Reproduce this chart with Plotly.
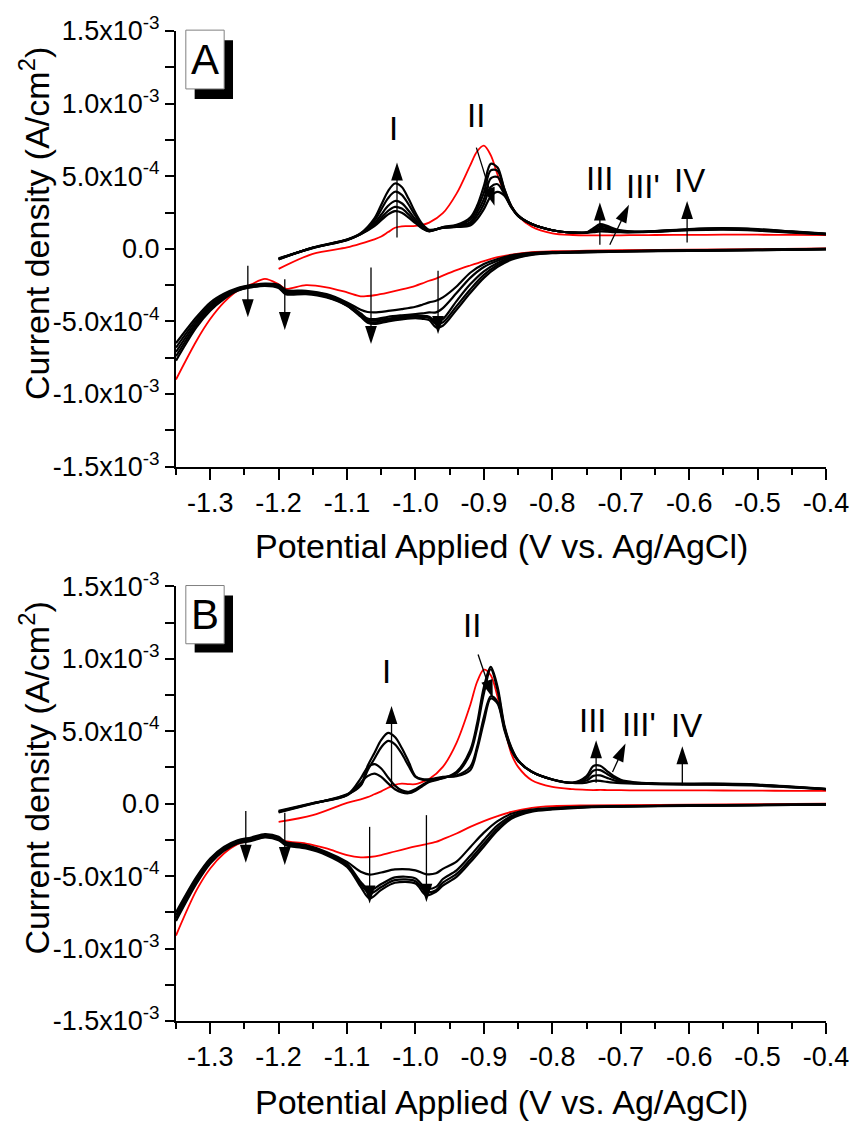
import plotly.graph_objects as go

SCALE = 1e-4  # stored current densities are in units of 1e-4 A/cm^2
FONT = "Liberation Sans, Arial, sans-serif"

# ---------------- Panel A ----------------
A_V_FWD = [-1.20, -1.15, -1.10, -1.08, -1.06, -1.05, -1.04, -1.03, -1.02, -1.01,
           -1.00, -0.99, -0.98, -0.96, -0.94, -0.92, -0.91, -0.90, -0.89, -0.88,
           -0.87, -0.86, -0.85, -0.83, -0.80, -0.77, -0.75, -0.74, -0.73, -0.72,
           -0.71, -0.70, -0.68, -0.65, -0.60, -0.55, -0.50, -0.45, -0.40]
A_FWD_RED = [-1.38, -0.35, 0.09, 0.35, 0.65, 0.85, 1.15, 1.45, 1.55, 1.56,
             1.58, 1.65, 1.80, 2.45, 3.80, 5.75, 6.70, 7.10, 6.45, 5.10,
             3.85, 2.95, 2.27, 1.52, 1.07, 0.95, 0.92, 0.92, 0.93, 0.93,
             0.93, 0.93, 0.94, 0.95, 0.96, 0.97, 0.97, 0.96, 0.94]
A_FWD_C1 = [-0.66, 0.05, 0.60, 1.00, 1.56, 1.97, 2.37, 2.59, 2.49, 2.15,
            1.76, 1.39, 1.20, 1.50, 1.65, 2.15, 2.96, 4.33, 5.85, 5.60,
            4.10, 2.95, 2.30, 1.70, 1.28, 1.12, 1.12, 1.14, 1.19, 1.18,
            1.15, 1.14, 1.14, 1.18, 1.28, 1.32, 1.25, 1.12, 1.00]
A_FWD_C2 = [-0.68, 0.06, 0.61, 1.01, 1.64, 2.14, 2.62, 2.89, 2.77, 2.36,
            1.87, 1.44, 1.22, 1.48, 1.60, 2.00, 2.75, 3.87, 5.40, 5.37,
            4.10, 2.95, 2.30, 1.70, 1.28, 1.12, 1.12, 1.20, 1.32, 1.28,
            1.21, 1.17, 1.15, 1.19, 1.30, 1.35, 1.28, 1.14, 1.01]
A_FWD_C3 = [-0.70, 0.07, 0.62, 1.03, 1.75, 2.36, 2.96, 3.29, 3.14, 2.62,
            2.02, 1.50, 1.24, 1.46, 1.55, 1.83, 2.50, 3.42, 4.85, 4.95,
            3.90, 2.90, 2.28, 1.70, 1.28, 1.12, 1.12, 1.27, 1.44, 1.38,
            1.27, 1.20, 1.16, 1.20, 1.32, 1.38, 1.30, 1.16, 1.02]
A_FWD_C4 = [-0.72, 0.08, 0.63, 1.05, 1.93, 2.71, 3.49, 3.93, 3.72, 3.05,
            2.26, 1.61, 1.28, 1.45, 1.52, 1.72, 2.27, 3.07, 4.25, 4.45,
            3.76, 2.88, 2.27, 1.70, 1.28, 1.12, 1.12, 1.33, 1.57, 1.48,
            1.33, 1.24, 1.17, 1.21, 1.34, 1.40, 1.33, 1.18, 1.03]
A_FWD_C5 = [-0.74, 0.09, 0.64, 1.07, 2.09, 3.03, 3.98, 4.50, 4.26, 3.44,
            2.48, 1.71, 1.31, 1.44, 1.50, 1.60, 2.04, 2.73, 3.60, 3.92,
            3.65, 2.85, 2.25, 1.70, 1.28, 1.12, 1.12, 1.42, 1.70, 1.58,
            1.40, 1.27, 1.18, 1.22, 1.36, 1.42, 1.35, 1.20, 1.04]

A_V_REV = [-0.40, -0.50, -0.60, -0.70, -0.75, -0.80, -0.83, -0.86, -0.88, -0.90,
           -0.92, -0.94, -0.96, -0.97, -0.98, -0.99, -1.00, -1.02, -1.04, -1.06,
           -1.07, -1.08, -1.10, -1.13, -1.16, -1.19, -1.20, -1.22, -1.24, -1.26,
           -1.28, -1.30, -1.32, -1.35]
A_REV_RED = [0.02, -0.02, -0.06, -0.10, -0.13, -0.17, -0.23, -0.40, -0.58, -0.85,
             -1.15, -1.47, -1.85, -2.05, -2.20, -2.38, -2.55, -2.80, -3.02, -3.20,
             -3.25, -3.27, -3.00, -2.65, -2.50, -2.75, -2.45, -2.07, -2.45, -2.89,
             -3.69, -4.84, -6.33, -9.00]
A_REV_C1 = [0.00, -0.06, -0.10, -0.15, -0.18, -0.22, -0.28, -0.45, -0.70, -1.05,
            -1.65, -2.60, -3.35, -3.58, -3.69, -3.85, -3.99, -4.15, -4.28, -4.38,
            -4.35, -4.20, -3.69, -3.12, -2.89, -2.84, -2.48, -2.39, -2.50, -2.70,
            -3.10, -3.70, -4.70, -6.50]
A_REV_C2 = [-0.01, -0.07, -0.11, -0.16, -0.19, -0.24, -0.31, -0.52, -0.82, -1.25,
            -2.00, -3.05, -4.08, -4.38, -4.38, -4.45, -4.50, -4.58, -4.68, -4.84,
            -4.80, -4.45, -3.78, -3.18, -2.95, -2.92, -2.54, -2.43, -2.54, -2.75,
            -3.19, -3.84, -4.88, -6.80]
A_REV_C3 = [-0.02, -0.08, -0.12, -0.17, -0.21, -0.26, -0.34, -0.60, -0.98, -1.55,
            -2.45, -3.60, -4.84, -5.00, -4.68, -4.62, -4.61, -4.68, -4.80, -4.95,
            -4.90, -4.55, -3.85, -3.24, -3.00, -2.98, -2.60, -2.47, -2.58, -2.80,
            -3.28, -3.98, -5.05, -7.10]
A_REV_C4 = [-0.03, -0.09, -0.13, -0.18, -0.23, -0.28, -0.38, -0.68, -1.12, -1.80,
            -2.80, -3.95, -5.07, -5.18, -4.77, -4.70, -4.68, -4.76, -4.90, -5.07,
            -5.00, -4.62, -3.90, -3.30, -3.06, -3.05, -2.65, -2.51, -2.62, -2.85,
            -3.37, -4.12, -5.22, -7.40]
A_REV_C5 = [-0.04, -0.10, -0.14, -0.19, -0.25, -0.30, -0.42, -0.75, -1.25, -2.00,
            -3.05, -4.20, -5.30, -5.41, -4.91, -4.82, -4.77, -4.86, -5.00, -5.18,
            -5.10, -4.68, -3.92, -3.35, -3.12, -3.12, -2.70, -2.55, -2.66, -2.89,
            -3.46, -4.27, -5.40, -7.70]

# arrows: (V tail, j tail, V head, j head)
A_ARROWS = [(-1.027, 0.78, -1.027, 5.94), (-0.911, 6.97, -0.8845, 2.96),
            (-0.7305, 0.28, -0.7305, 3.19), (-0.716, 0.28, -0.688, 3.03),
            (-0.603, 0.44, -0.603, 3.30),
            (-1.245, -1.17, -1.245, -4.72), (-1.191, -2.09, -1.191, -5.60),
            (-1.065, -1.28, -1.065, -6.56), (-0.967, -1.51, -0.967, -5.87)]
A_LABELS = ["I", "II", "III", "III'", "IV"]
A_LABEL_V = [-1.0325, -0.912, -0.731, -0.667, -0.600]
A_LABEL_J = [8.26, 9.18, 4.85, 4.27, 4.68]

# ---------------- Panel B ----------------
B_V_FWD = [-1.20, -1.15, -1.10, -1.08, -1.07, -1.06, -1.05, -1.04, -1.03, -1.02,
           -1.01, -1.00, -0.99, -0.98, -0.96, -0.94, -0.92, -0.91, -0.90, -0.89,
           -0.88, -0.87, -0.86, -0.85, -0.83, -0.80, -0.77, -0.75, -0.74, -0.73,
           -0.72, -0.71, -0.70, -0.68, -0.65, -0.60, -0.55, -0.50, -0.45, -0.40]
B_FWD_RED = [-1.26, -0.79, 0.06, 0.30, 0.45, 0.65, 0.85, 1.10, 1.30, 1.38,
             1.35, 1.35, 1.50, 1.70, 2.54, 4.20, 6.80, 8.40, 9.25, 8.87,
             7.37, 5.30, 3.46, 2.54, 1.62, 1.16, 1.00, 0.95, 0.94, 0.95,
             0.94, 0.93, 0.93, 0.92, 0.92, 0.92, 0.91, 0.90, 0.89, 0.88]
B_FWD_C1 = [-0.50, 0.05, 0.58, 1.45, 1.90, 2.08, 1.85, 1.40, 1.00, 0.78,
            0.72, 0.90, 1.20, 1.50, 1.75, 2.20, 3.69, 5.53, 8.06, 9.44,
            8.06, 5.40, 3.90, 3.00, 2.20, 1.67, 1.43, 1.46, 1.58, 1.58,
            1.50, 1.45, 1.42, 1.38, 1.35, 1.32, 1.30, 1.25, 1.12, 1.00]
B_FWD_C2 = [-0.54, 0.03, 0.60, 1.75, 2.50, 2.73, 2.43, 1.81, 1.25, 0.92,
            0.82, 1.00, 1.30, 1.55, 1.78, 2.10, 3.46, 5.19, 7.60, 9.28,
            7.83, 5.30, 3.85, 3.00, 2.20, 1.67, 1.44, 1.60, 1.92, 1.95,
            1.78, 1.62, 1.50, 1.42, 1.37, 1.34, 1.33, 1.28, 1.14, 1.00]
B_FWD_C3 = [-0.57, 0.01, 0.62, 1.25, 2.30, 3.10, 3.90, 4.34, 4.10, 3.45,
            2.60, 1.85, 1.65, 1.62, 1.82, 1.95, 2.54, 3.92, 5.99, 7.42,
            7.02, 5.20, 3.75, 2.95, 2.20, 1.67, 1.44, 1.75, 2.28, 2.32,
            2.05, 1.78, 1.58, 1.45, 1.39, 1.36, 1.36, 1.30, 1.16, 1.01]
B_FWD_C4 = [-0.60, 0.00, 0.65, 1.30, 2.60, 3.50, 4.40, 4.89, 4.60, 3.85,
            2.90, 1.90, 1.70, 1.68, 1.85, 1.90, 2.31, 3.69, 5.64, 7.26,
            6.91, 5.07, 3.70, 2.95, 2.20, 1.67, 1.45, 1.90, 2.60, 2.62,
            2.25, 1.90, 1.65, 1.48, 1.41, 1.38, 1.38, 1.32, 1.18, 1.02]

B_V_REV = [-0.40, -0.50, -0.60, -0.70, -0.75, -0.80, -0.83, -0.86, -0.88, -0.90,
           -0.92, -0.94, -0.96, -0.97, -0.985, -1.00, -1.03, -1.05, -1.067, -1.08,
           -1.10, -1.13, -1.16, -1.19, -1.20, -1.22, -1.24, -1.26, -1.28, -1.30,
           -1.32, -1.35]
B_REV_RED = [0.01, -0.04, -0.07, -0.10, -0.12, -0.17, -0.29, -0.57, -0.86, -1.20,
             -1.60, -2.06, -2.45, -2.64, -2.80, -2.95, -3.30, -3.55, -3.68, -3.70,
             -3.55, -3.09, -2.75, -2.59, -2.40, -2.29, -2.52, -2.79, -3.44, -4.47,
             -5.97, -9.10]
B_REV_C1 = [-0.04, -0.08, -0.12, -0.17, -0.20, -0.30, -0.40, -0.70, -1.20, -2.00,
            -3.00, -4.00, -4.50, -4.80, -4.86, -4.60, -4.54, -4.75, -4.89, -4.70,
            -4.02, -3.33, -2.86, -2.64, -2.29, -2.10, -2.33, -2.52, -2.98, -3.78,
            -5.05, -7.50]
B_REV_C2 = [-0.05, -0.09, -0.13, -0.18, -0.22, -0.33, -0.45, -0.85, -1.50, -2.50,
            -3.60, -4.60, -5.20, -5.74, -5.85, -5.16, -5.09, -5.55, -5.97, -5.40,
            -4.15, -3.40, -2.94, -2.71, -2.37, -2.18, -2.41, -2.60, -3.07, -3.90,
            -5.20, -7.70]
B_REV_C3 = [-0.06, -0.10, -0.14, -0.19, -0.24, -0.36, -0.50, -0.95, -1.70, -2.75,
            -3.85, -4.85, -5.45, -5.97, -6.08, -5.35, -5.28, -5.75, -6.20, -5.55,
            -4.25, -3.47, -3.01, -2.79, -2.45, -2.26, -2.49, -2.68, -3.17, -4.01,
            -5.36, -7.90]
B_REV_C4 = [-0.06, -0.11, -0.15, -0.20, -0.25, -0.40, -0.55, -1.05, -1.85, -2.95,
            -4.05, -5.05, -5.65, -6.08, -6.31, -5.51, -5.46, -5.95, -6.54, -5.74,
            -4.36, -3.55, -3.09, -2.86, -2.52, -2.33, -2.57, -2.75, -3.26, -4.13,
            -5.51, -8.10]

B_ARROWS = [(-1.035, 1.16, -1.035, 6.75), (-0.9085, 10.3, -0.887, 7.3),
            (-0.736, 1.44, -0.736, 4.38), (-0.712, 2.19, -0.693, 4.15),
            (-0.610, 1.28, -0.610, 3.97),
            (-1.248, -0.50, -1.248, -4.08), (-1.191, -0.63, -1.191, -4.24),
            (-1.067, -1.60, -1.067, -6.89), (-0.984, -0.79, -0.984, -6.78)]
B_LABELS = ["I", "II", "III", "III'", "IV"]
B_LABEL_V = [-1.0425, -0.918, -0.741, -0.674, -0.604]
B_LABEL_J = [9.11, 12.32, 5.73, 5.45, 5.38]

# ---------------- Axes ----------------
X_TICKS = [-1.3, -1.2, -1.1, -1.0, -0.9, -0.8, -0.7, -0.6, -0.5, -0.4]
X_TICK_TEXT = ["-1.3", "-1.2", "-1.1", "-1.0", "-0.9", "-0.8", "-0.7", "-0.6", "-0.5", "-0.4"]
X_MINOR = [-1.35, -1.25, -1.15, -1.05, -0.95, -0.85, -0.75, -0.65, -0.55, -0.45]
Y_TICKS = [-1.5e-3, -1.0e-3, -5.0e-4, 0.0, 5.0e-4, 1.0e-3, 1.5e-3]
Y_TICK_TEXT = ["-1.5x10<sup>-3</sup>", "-1.0x10<sup>-3</sup>", "-5.0x10<sup>-4</sup>", "0.0",
               "5.0x10<sup>-4</sup>", "1.0x10<sup>-3</sup>", "1.5x10<sup>-3</sup>"]
Y_MINOR = [-1.25e-3, -7.5e-4, -2.5e-4, 2.5e-4, 7.5e-4, 1.25e-3]

BLACK = "#000000"
RED = "#ff0000"

fig = go.Figure()


def add_branch(v, j, color, width, xa, ya):
    fig.add_trace(go.Scatter(
        x=v, y=[val * SCALE for val in j], mode="lines",
        line=dict(color=color, width=width, shape="spline", smoothing=0.9),
        xaxis=xa, yaxis=ya, hoverinfo="skip", showlegend=False))


def add_arrow(a, xa, ya):
    v0, j0, v1, j1 = a
    fig.add_trace(go.Scatter(
        x=[v0, v1], y=[j0 * SCALE, j1 * SCALE], mode="lines+markers",
        line=dict(color=BLACK, width=1.3),
        marker=dict(symbol="arrow", size=[0, 19], color=BLACK, opacity=1,
                    angleref="previous", line=dict(width=0)),
        xaxis=xa, yaxis=ya, hoverinfo="skip", showlegend=False))


panels = [
    ("x", "y", A_V_FWD, A_FWD_RED, [A_FWD_C1, A_FWD_C2, A_FWD_C3, A_FWD_C4, A_FWD_C5],
     A_V_REV, A_REV_RED, [A_REV_C1, A_REV_C2, A_REV_C3, A_REV_C4, A_REV_C5],
     A_ARROWS, A_LABELS, A_LABEL_V, A_LABEL_J),
    ("x2", "y2", B_V_FWD, B_FWD_RED, [B_FWD_C1, B_FWD_C2, B_FWD_C3, B_FWD_C4],
     B_V_REV, B_REV_RED, [B_REV_C1, B_REV_C2, B_REV_C3, B_REV_C4],
     B_ARROWS, B_LABELS, B_LABEL_V, B_LABEL_J),
]

annotations = []
for (xa, ya, vf, fred, fblk, vr, rred, rblk, arrows, labels, lv, lj) in panels:
    add_branch(vf, fred, RED, 1.8, xa, ya)
    add_branch(vr, rred, RED, 1.8, xa, ya)
    for cyc in fblk:
        add_branch(vf, cyc, BLACK, 2.2, xa, ya)
    for cyc in rblk:
        add_branch(vr, cyc, BLACK, 2.2, xa, ya)
    for a in arrows:
        add_arrow(a, xa, ya)
    for t, v, j in zip(labels, lv, lj):
        annotations.append(dict(x=v, y=j * SCALE, xref=xa, yref=ya, text=t,
                                showarrow=False, xanchor="center", yanchor="middle",
                                font=dict(family=FONT, size=33, color=BLACK)))

# panel letters in framed boxes with a drop shadow
for letter, ydom, top, bot, stop, sbot in [("A", "y domain", 1.002, 0.867, 0.979, 0.844),
                                          ("B", "y2 domain", 1.002, 0.868, 0.979, 0.848)]:
    xdom = "x domain" if letter == "A" else "x2 domain"
    fig.add_shape(type="rect", xref=xdom, yref=ydom, x0=0.0287, x1=0.0877, y0=sbot, y1=stop,
                  fillcolor=BLACK, line=dict(width=0), layer="above")
    fig.add_shape(type="rect", xref=xdom, yref=ydom, x0=0.0151, x1=0.0741, y0=bot, y1=top,
                  fillcolor="white", line=dict(color="#808080", width=1), layer="above")
    annotations.append(dict(x=0.0446, y=(top + bot) / 2, xref=xdom, yref=ydom, text=letter,
                            showarrow=False, xanchor="center", yanchor="middle",
                            font=dict(family=FONT, size=42, color=BLACK)))

# axis titles
XTITLE = "Potential Applied (V vs. Ag/AgCl)"
YTITLE = "Current density (A/cm<sup>2</sup>)"
for yp in (0.4793, -0.0817):
    annotations.append(dict(x=0.5, y=yp, xref="paper", yref="paper", text=XTITLE,
                            showarrow=False, xanchor="center", yanchor="middle",
                            font=dict(family=FONT, size=34, color=BLACK)))
for yp in (0.8053, 0.2452):
    annotations.append(dict(x=-0.2179, y=yp, xref="paper", yref="paper", text=YTITLE,
                            textangle=-90, showarrow=False, xanchor="center", yanchor="middle",
                            font=dict(family=FONT, size=34, color=BLACK)))

xaxis_style = dict(range=[-1.35, -0.4], tickmode="array", tickvals=X_TICKS, ticktext=X_TICK_TEXT,
                   ticks="outside", ticklen=11, tickwidth=2, tickcolor=BLACK,
                   showline=True, linewidth=2, linecolor=BLACK, showgrid=False, zeroline=False,
                   minor=dict(tickvals=X_MINOR, ticks="outside", ticklen=6, tickwidth=2, tickcolor=BLACK),
                   tickfont=dict(family=FONT, size=27, color=BLACK))
yaxis_style = dict(range=[-1.5e-3, 1.5e-3], tickmode="array", tickvals=Y_TICKS, ticktext=Y_TICK_TEXT,
                   ticks="outside", ticklen=9, tickwidth=2, tickcolor=BLACK,
                   showline=True, linewidth=2, linecolor=BLACK, showgrid=False, zeroline=False,
                   minor=dict(tickvals=Y_MINOR, ticks="outside", ticklen=9, tickwidth=2, tickcolor=BLACK),
                   tickfont=dict(family=FONT, size=27, color=BLACK))

fig.update_layout(
    width=861, height=1124,
    margin=dict(l=176, r=24, t=30, b=103),
    plot_bgcolor="white", paper_bgcolor="white",
    showlegend=False,
    xaxis=dict(domain=[0, 1], anchor="y", **xaxis_style),
    yaxis=dict(domain=[0.56, 1.0], anchor="x", **yaxis_style),
    xaxis2=dict(domain=[0, 1], anchor="y2", **xaxis_style),
    yaxis2=dict(domain=[0.0, 0.439], anchor="x2", **yaxis_style),
    annotations=annotations,
)

fig.write_html("out.html")
